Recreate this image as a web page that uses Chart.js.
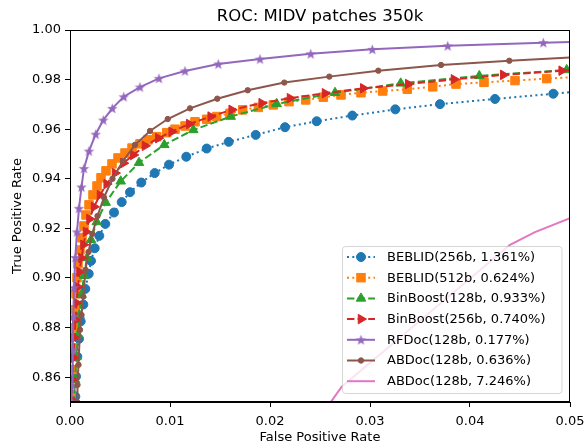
<!DOCTYPE html>
<html>
<head>
<meta charset="utf-8">
<script src="https://cdn.jsdelivr.net/npm/chart.js@4.4.0/dist/chart.umd.min.js"></script>
<style>
  html, body { margin: 0; padding: 0; background: #fff; }
  #wrap { width: 585px; height: 443px; }
</style>
</head>
<body>
<div id="wrap"><canvas id="roc" width="585" height="443"></canvas></div>
<script>
// Tick labels
const xTicks = [0.00, 0.01, 0.02, 0.03, 0.04, 0.05];
const yTicks = [0.86, 0.88, 0.90, 0.92, 0.94, 0.96, 0.98, 1.00];

// Legend labels
const labels = [
  'BEBLID(256b, 1.361%)',
  'BEBLID(512b, 0.624%)',
  'BinBoost(128b, 0.933%)',
  'BinBoost(256b, 0.740%)',
  'RFDoc(128b, 0.177%)',
  'ABDoc(128b, 0.636%)',
  'ABDoc(128b, 7.246%)',
];

// Curves (FPR, TPR)
const beblid256X = [0.0005, 0.00053, 0.0006, 0.00073, 0.0009, 0.00107, 0.00133, 0.00153, 0.00187, 0.0021, 0.00247, 0.00293, 0.00353, 0.0044, 0.00517, 0.006, 0.00713, 0.00847, 0.0099, 0.01163, 0.01367, 0.01587, 0.01857, 0.0215, 0.02467, 0.02823, 0.03253, 0.037, 0.0425, 0.04833, 0.0545];
const beblid256Y = [0.845, 0.8522, 0.8603, 0.8683, 0.8755, 0.8825, 0.8893, 0.8956, 0.9017, 0.9069, 0.9120, 0.9170, 0.9218, 0.9264, 0.9306, 0.9346, 0.9385, 0.9423, 0.9457, 0.9489, 0.9522, 0.9549, 0.9577, 0.9608, 0.9632, 0.9655, 0.9680, 0.9701, 0.9722, 0.9743, 0.9766];

const beblid512X = [0.00005, 0.0001, 0.0002, 0.0003, 0.0004, 0.0005, 0.0006, 0.0007, 0.0008, 0.001, 0.0012, 0.0014, 0.0016, 0.0019, 0.0023, 0.0027, 0.0031, 0.0036, 0.0042, 0.0048, 0.0055, 0.0062, 0.007, 0.0078, 0.00867, 0.00967, 0.0105, 0.0115, 0.0125, 0.01367, 0.01467, 0.016, 0.01727, 0.01883, 0.02033, 0.0219, 0.02357, 0.02533, 0.0271, 0.0291, 0.03127, 0.03373, 0.03627, 0.0386, 0.0414, 0.0445, 0.04767, 0.051];
const beblid512Y = [0.845, 0.8529, 0.8630, 0.8718, 0.8799, 0.8872, 0.8936, 0.9001, 0.9057, 0.9113, 0.9162, 0.9210, 0.9254, 0.9295, 0.9335, 0.9371, 0.9404, 0.9432, 0.9460, 0.9484, 0.9504, 0.9524, 0.9541, 0.9557, 0.9570, 0.9586, 0.9600, 0.9613, 0.9630, 0.9640, 0.9651, 0.9664, 0.9678, 0.9688, 0.9698, 0.9711, 0.9718, 0.9729, 0.9738, 0.9747, 0.9754, 0.9761, 0.9771, 0.9782, 0.9789, 0.9796, 0.9804, 0.9811];

const binboost128X = [0.00035, 0.0004, 0.0005, 0.00065, 0.0008, 0.00095, 0.00115, 0.0014, 0.0017, 0.0021, 0.00267, 0.00357, 0.00507, 0.0069, 0.00943, 0.01233, 0.01607, 0.02067, 0.0265, 0.03307, 0.04093, 0.04967, 0.06];
const binboost128Y = [0.845, 0.8501, 0.8590, 0.8682, 0.8771, 0.8851, 0.8932, 0.9009, 0.9081, 0.9154, 0.9226, 0.9304, 0.9390, 0.9465, 0.9537, 0.9597, 0.9651, 0.9702, 0.9747, 0.9785, 0.9815, 0.9839, 0.9862];

const binboost256X = [0.0001, 0.00015, 0.00025, 0.00035, 0.00045, 0.00055, 0.00065, 0.0008, 0.00095, 0.00115, 0.00135, 0.0016, 0.00195, 0.0024, 0.003, 0.00367, 0.0045, 0.00533, 0.00633, 0.0075, 0.00883, 0.01017, 0.01193, 0.01407, 0.01617, 0.01917, 0.022, 0.0255, 0.02933, 0.03383, 0.0384, 0.04333, 0.04917, 0.056];
const binboost256Y = [0.845, 0.8509, 0.8590, 0.8678, 0.8759, 0.8831, 0.8900, 0.8964, 0.9025, 0.9081, 0.9134, 0.9186, 0.9238, 0.9287, 0.9335, 0.9379, 0.9423, 0.9463, 0.9496, 0.9533, 0.9564, 0.9590, 0.9621, 0.9651, 0.9678, 0.9705, 0.9725, 0.9745, 0.9765, 0.9782, 0.9801, 0.9819, 0.9836, 0.9853];

const rfdocX = [0.00012, 0.00015, 0.0002, 0.00027, 0.00033, 0.0004, 0.00053, 0.0007, 0.0009, 0.00115, 0.0014, 0.0019, 0.00257, 0.00333, 0.00423, 0.00537, 0.007, 0.0089, 0.0115, 0.01483, 0.019, 0.02407, 0.03023, 0.03777, 0.04733, 0.058];
const rfdocY = [0.845, 0.8501, 0.8569, 0.8710, 0.8845, 0.8961, 0.9083, 0.9186, 0.9281, 0.9367, 0.9442, 0.9512, 0.9580, 0.9637, 0.9684, 0.9731, 0.9770, 0.9805, 0.9835, 0.9863, 0.9883, 0.9904, 0.9922, 0.9936, 0.9949, 0.9960];

const abdocX = [0.00068, 0.0007, 0.00075, 0.00085, 0.001, 0.00115, 0.00133, 0.00155, 0.00185, 0.00223, 0.00275, 0.0034, 0.00425, 0.0053, 0.0065, 0.008, 0.00977, 0.012, 0.01473, 0.01777, 0.02143, 0.02593, 0.03083, 0.0371, 0.04393, 0.0525];
const abdocY = [0.845, 0.8501, 0.8569, 0.8650, 0.8791, 0.8851, 0.8925, 0.9033, 0.9105, 0.9178, 0.9250, 0.9325, 0.9400, 0.9472, 0.9537, 0.9593, 0.9641, 0.9684, 0.9723, 0.9757, 0.9788, 0.9812, 0.9836, 0.9859, 0.9876, 0.9894];

const abdocHighX = [0.0255, 0.0261, 0.02717, 0.044, 0.0465, 0.05, 0.052];
const abdocHighY = [0.845, 0.8501, 0.8562, 0.9134, 0.9185, 0.9241, 0.927];

const colors = ['#1f77b4', '#ff7f0e', '#2ca02c', '#d62728', '#9467bd', '#8c564b', '#e377c2'];
const FONT = 'DejaVu Sans';

// filled 5-point star, like matplotlib '*'
function makeStar(color, outer) {
  const inner = outer * 0.42;
  const size = Math.ceil(outer * 2 + 2);
  const c = document.createElement('canvas');
  c.width = size; c.height = size;
  const g = c.getContext('2d');
  g.fillStyle = color;
  g.beginPath();
  for (let i = 0; i < 10; i++) {
    const r = i % 2 === 0 ? outer : inner;
    const a = -Math.PI / 2 + i * Math.PI / 5;
    const px = size / 2 + r * Math.cos(a);
    const py = size / 2 + r * Math.sin(a) + outer * 0.1;
    if (i === 0) g.moveTo(px, py); else g.lineTo(px, py);
  }
  g.closePath();
  g.fill();
  return c;
}
const starImg = makeStar(colors[4], 5.5);

function pts(xs, ys) {
  return xs.map((x, i) => ({ x: x, y: ys[i] }));
}

const styles = [
  { dash: [2, 3.3], pointStyle: 'circle', r: 4.5, rot: 0 },
  { dash: [2, 3.3], pointStyle: 'rect', r: 6, rot: 0 },
  { dash: [7.4, 3.2], pointStyle: 'triangle', r: 5.5, rot: 0 },
  { dash: [7.4, 3.2], pointStyle: 'triangle', r: 5.5, rot: 90 },
  { dash: [], pointStyle: starImg, r: 5, rot: 0 },
  { dash: [], pointStyle: 'circle', r: 2.7, rot: 0 },
  { dash: [], pointStyle: 'circle', r: 0, rot: 0 },
];

const series = [
  pts(beblid256X, beblid256Y),
  pts(beblid512X, beblid512Y),
  pts(binboost128X, binboost128Y),
  pts(binboost256X, binboost256Y),
  pts(rfdocX, rfdocY),
  pts(abdocX, abdocY),
  pts(abdocHighX, abdocHighY),
];

const datasets = series.map((data, i) => ({
  label: labels[i],
  data: data,
  borderColor: colors[i],
  backgroundColor: colors[i],
  borderWidth: 2,
  borderDash: styles[i].dash,
  pointStyle: styles[i].pointStyle,
  pointRadius: styles[i].r,
  pointRotation: styles[i].rot,
  pointBorderWidth: 1,
  pointBorderColor: colors[i],
  pointBackgroundColor: colors[i],
  tension: 0,
  fill: false,
  // later series sit on top, as in the original
  order: series.length - i,
}));

// draw a legend marker
function drawMarker(ctx, st, color, x, y) {
  ctx.save();
  ctx.fillStyle = color;
  ctx.strokeStyle = color;
  ctx.lineWidth = 1;
  ctx.setLineDash([]);
  if (st.pointStyle instanceof HTMLCanvasElement) {
    ctx.drawImage(st.pointStyle, x - st.pointStyle.width / 2, y - st.pointStyle.height / 2);
  } else if (st.pointStyle === 'circle' && st.r > 0) {
    ctx.beginPath();
    ctx.arc(x, y, st.r, 0, Math.PI * 2);
    ctx.fill(); ctx.stroke();
  } else if (st.pointStyle === 'rect') {
    const s = st.r * Math.SQRT1_2;
    ctx.fillRect(x - s, y - s, 2 * s, 2 * s);
    ctx.strokeRect(x - s, y - s, 2 * s, 2 * s);
  } else if (st.pointStyle === 'triangle') {
    let rad = st.rot * Math.PI / 180;
    ctx.beginPath();
    for (let k = 0; k < 3; k++) {
      const px = x + Math.sin(rad) * st.r;
      const py = y - Math.cos(rad) * st.r;
      if (k === 0) ctx.moveTo(px, py); else ctx.lineTo(px, py);
      rad += Math.PI * 2 / 3;
    }
    ctx.closePath();
    ctx.fill(); ctx.stroke();
  } else if (st.r === 0) {
    ctx.beginPath();
    ctx.arc(x, y, 0.8, 0, Math.PI * 2);
    ctx.fill();
  }
  ctx.restore();
}

function roundRect(ctx, x, y, w, h, r) {
  ctx.beginPath();
  ctx.moveTo(x + r, y);
  ctx.lineTo(x + w - r, y);
  ctx.quadraticCurveTo(x + w, y, x + w, y + r);
  ctx.lineTo(x + w, y + h - r);
  ctx.quadraticCurveTo(x + w, y + h, x + w - r, y + h);
  ctx.lineTo(x + r, y + h);
  ctx.quadraticCurveTo(x, y + h, x, y + h - r);
  ctx.lineTo(x, y + r);
  ctx.quadraticCurveTo(x, y, x + r, y);
  ctx.closePath();
}

const decorPlugin = {
  id: 'decor',
  afterDatasetsDraw(chart) {
    const { ctx, chartArea: a } = chart;
    ctx.save();
    ctx.strokeStyle = '#000';
    ctx.lineWidth = 1;
    ctx.strokeRect(Math.round(a.left) + 0.5, Math.round(a.top) + 0.5,
      Math.round(a.right - a.left) - 1, Math.round(a.bottom - a.top) - 1);
    ctx.restore();
  },
  afterDraw(chart) {
    const { ctx, chartArea: a } = chart;
    ctx.save();
    // title
    ctx.fillStyle = '#000';
    ctx.font = `16.5px "${FONT}"`;
    ctx.textAlign = 'center';
    ctx.textBaseline = 'alphabetic';
    ctx.fillText('ROC: MIDV patches 350k', (a.left + a.right) / 2, 21);

    // legend, lower right inside the axes
    const bx = 342.5, by = 246.5, bw = 219.5, bh = 147;
    roundRect(ctx, bx, by, bw, bh, 3);
    ctx.fillStyle = 'rgba(255,255,255,0.8)';
    ctx.fill();
    ctx.strokeStyle = 'rgba(204,204,204,0.8)';
    ctx.lineWidth = 1;
    ctx.stroke();

    ctx.font = `13px "${FONT}"`;
    ctx.textAlign = 'left';
    ctx.textBaseline = 'middle';
    labels.forEach((lab, i) => {
      const y = 257 + i * 20.7;
      ctx.save();
      ctx.strokeStyle = colors[i];
      ctx.lineWidth = 2;
      ctx.setLineDash(styles[i].dash);
      ctx.beginPath();
      ctx.moveTo(347, y);
      ctx.lineTo(375, y);
      ctx.stroke();
      ctx.restore();
      drawMarker(ctx, styles[i], colors[i], 361, y);
      ctx.fillStyle = '#000';
      ctx.fillText(lab, 387, y + 0.5);
    });
    ctx.restore();
  },
};

const tickFont = { family: FONT, size: 13 };

new Chart(document.getElementById('roc'), {
  type: 'line',
  data: { datasets: datasets },
  plugins: [decorPlugin],
  options: {
    responsive: false,
    animation: false,
    parsing: true,
    layout: { padding: { left: 0, top: 30, right: 15, bottom: 0 } },
    plugins: {
      legend: { display: false },
      title: { display: false },
      tooltip: { enabled: false },
    },
    scales: {
      x: {
        type: 'linear',
        min: 0,
        max: 0.05,
        afterBuildTicks: (s) => { s.ticks = xTicks.map(v => ({ value: v })); },
        afterFit: (s) => { s.height = 41; s.paddingLeft = 0; s.paddingRight = 0; },
        ticks: {
          color: '#000',
          font: tickFont,
          padding: 7,
          maxRotation: 0,
          autoSkip: false,
          callback: (v) => Number(v).toFixed(2),
        },
        grid: { display: true, drawOnChartArea: false, tickLength: 5, tickColor: '#000', tickWidth: 1 },
        border: { display: true, color: '#000', width: 1 },
        title: {
          display: true,
          text: 'False Positive Rate',
          color: '#000',
          font: { family: FONT, size: 13 },
          padding: { top: 0, bottom: -2 },
        },
      },
      y: {
        type: 'linear',
        min: 0.85,
        max: 1.0,
        afterBuildTicks: (s) => { s.ticks = yTicks.map(v => ({ value: v })); },
        afterFit: (s) => { s.width = 70; },
        ticks: {
          color: '#000',
          font: tickFont,
          padding: 4,
          autoSkip: false,
          callback: (v) => Number(v).toFixed(2),
        },
        grid: { display: true, drawOnChartArea: false, tickLength: 5, tickColor: '#000', tickWidth: 1 },
        border: { display: true, color: '#000', width: 1 },
        title: {
          display: true,
          text: 'True Positive Rate',
          color: '#000',
          font: { family: FONT, size: 13 },
          padding: 10,
        },
      },
    },
  },
});
</script>
</body>
</html>
